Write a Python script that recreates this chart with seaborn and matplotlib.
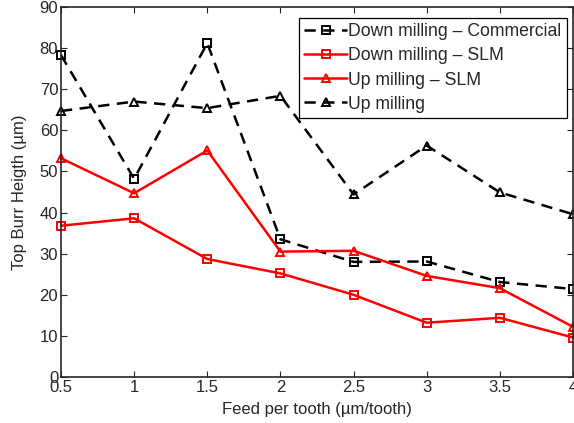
import matplotlib
matplotlib.use("Agg")
import matplotlib.pyplot as plt
import seaborn as sns
import pandas as pd

feed = [0.5, 1.0, 1.5, 2.0, 2.5, 3.0, 3.5, 4.0]
down_commercial = [78.3, 48.2, 81.2, 33.5, 28.0, 28.1, 23.1, 21.4]
down_slm = [36.8, 38.6, 28.7, 25.2, 20.0, 13.2, 14.4, 9.6]
up_slm = [53.2, 44.7, 55.1, 30.5, 30.7, 24.6, 21.6, 12.2]
up_milling = [64.7, 67.0, 65.4, 68.4, 44.4, 56.3, 44.9, 39.6]

series_names = ["Down milling \u2013 Commercial", "Down milling \u2013 SLM",
                "Up milling \u2013 SLM", "Up milling"]
y_ticks = [0, 10, 20, 30, 40, 50, 60, 70, 80, 90]
x_ticks = [0.5, 1, 1.5, 2, 2.5, 3, 3.5, 4]
x_tick_labels = ["0.5", "1", "1.5", "2", "2.5", "3", "3.5", "4"]

sns.set_style("ticks")
plt.rcParams['font.family'] = ['Liberation Sans', 'DejaVu Sans']

fig = plt.figure(figsize=(5.74, 4.23), dpi=100)
ax = fig.add_axes([61/574, 46/423, 512/574, 370/423])

styles = [
    (down_commercial, "black", "s", (0, (4.5, 3))),
    (down_slm, "red", "s", "-"),
    (up_slm, "red", "^", "-"),
    (up_milling, "black", "^", (0, (4.5, 3))),
]
for name, (vals, col, mk, ls) in zip(series_names, styles):
    df = pd.DataFrame({"x": feed, "y": vals})
    sns.lineplot(data=df, x="x", y="y", ax=ax, color=col, marker=mk,
                 linestyle=ls, linewidth=1.8, markersize=5.5,
                 markerfacecolor="none", markeredgecolor=col,
                 markeredgewidth=1.4, clip_on=False, label=name)

ax.set_xlim(0.5, 4)
ax.set_ylim(0, 90)
ax.set_xticks(x_ticks)
ax.set_xticklabels(x_tick_labels)
ax.set_yticks(y_ticks)
ax.tick_params(direction="in", top=True, right=True, labelsize=12,
               length=4, width=0.8, pad=2)
for s in ax.spines.values():
    s.set_linewidth(1.2)
ax.set_xlabel("Feed per tooth (\u00b5m/tooth)", fontsize=12, labelpad=5)
ax.set_ylabel("Top Burr Heigth (\u00b5m)", fontsize=12, labelpad=9)

leg = ax.legend(loc="upper right", bbox_to_anchor=(0.988, 0.97),
                fontsize=12.7, frameon=True, fancybox=False,
                edgecolor="black", framealpha=1, handlelength=2.4,
                handletextpad=0.1, borderpad=0.3, labelspacing=0.4,
                borderaxespad=0)
leg.get_frame().set_linewidth(0.9)

fig.savefig("out.png", dpi=100)
